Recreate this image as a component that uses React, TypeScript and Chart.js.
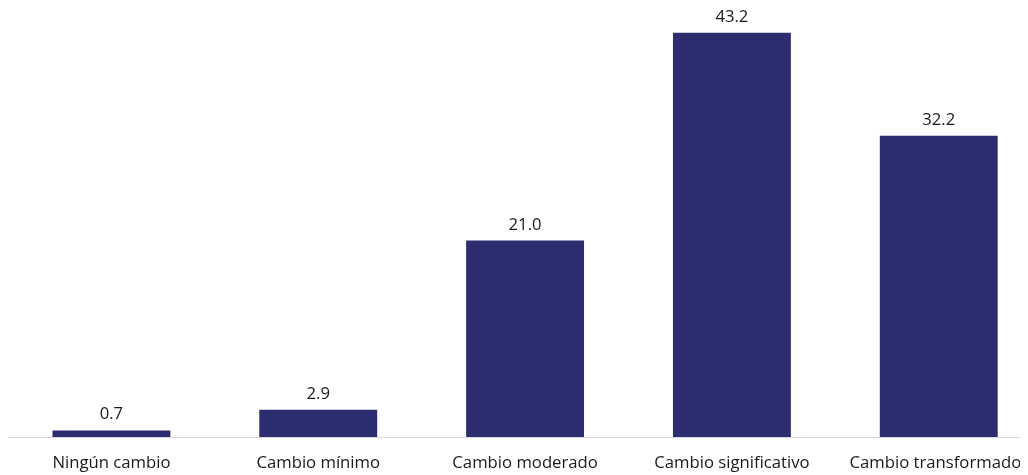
import React, { useEffect, useRef } from "react";
import { Chart, registerables } from "chart.js";

Chart.register(...registerables);

const categories = [
  "Ningún cambio",
  "Cambio mínimo",
  "Cambio moderado",
  "Cambio significativo",
  "Cambio transformador",
];
const values = [0.7, 2.9, 21.0, 43.2, 32.2];

const FONT = "'Open Sans', 'Noto Sans', sans-serif";

const valueLabels = {
  id: "valueLabels",
  afterDatasetsDraw(chart: any) {
    const ctx = chart.ctx;
    const meta = chart.getDatasetMeta(0);
    ctx.save();
    ctx.font = `16.7px ${FONT}`;
    ctx.fillStyle = "#1a1a1a";
    ctx.textAlign = "center";
    ctx.textBaseline = "alphabetic";
    meta.data.forEach((bar: any, i: number) => {
      ctx.fillText(values[i].toFixed(1), bar.x, bar.y - 11);
    });
    ctx.restore();
  },
};

export default function App() {
  const ref = useRef<HTMLCanvasElement>(null);
  useEffect(() => {
    document.documentElement.style.overflow = "hidden";
    document.body.style.overflow = "hidden";
    if (!ref.current) return;
    const chart = new Chart(ref.current, {
      type: "bar",
      data: {
        labels: categories,
        datasets: [
          {
            data: values,
            backgroundColor: "#2B2D6E",
            categoryPercentage: 1,
            barPercentage: 0.57,
          },
        ],
      },
      options: {
        responsive: false,
        animation: false,
        layout: { padding: { top: 8, left: 0, right: 0, bottom: 0 } },
        plugins: {
          legend: { display: false },
          tooltip: { enabled: false },
        },
        scales: {
          x: {
            grid: { display: false, drawTicks: false },
            border: { display: true, color: "#d9d9d9", width: 1 },
            ticks: {
              color: "#1a1a1a",
              font: { family: FONT, size: 16.7 },
              padding: 16,
              maxRotation: 0,
              autoSkip: false,
            },
            afterFit: (scale: any) => {
              scale.height = 38;
            },
          },
          y: {
            display: false,
            min: 0,
            max: 45,
          },
        },
      },
      plugins: [valueLabels],
    });
    return () => chart.destroy();
  }, []);
  return (
    <div style={{ width: 1020, height: 467, overflow: "hidden" }}>
      <canvas ref={ref} width={1036} height={467} style={{ display: "block" }} />
    </div>
  );
}
